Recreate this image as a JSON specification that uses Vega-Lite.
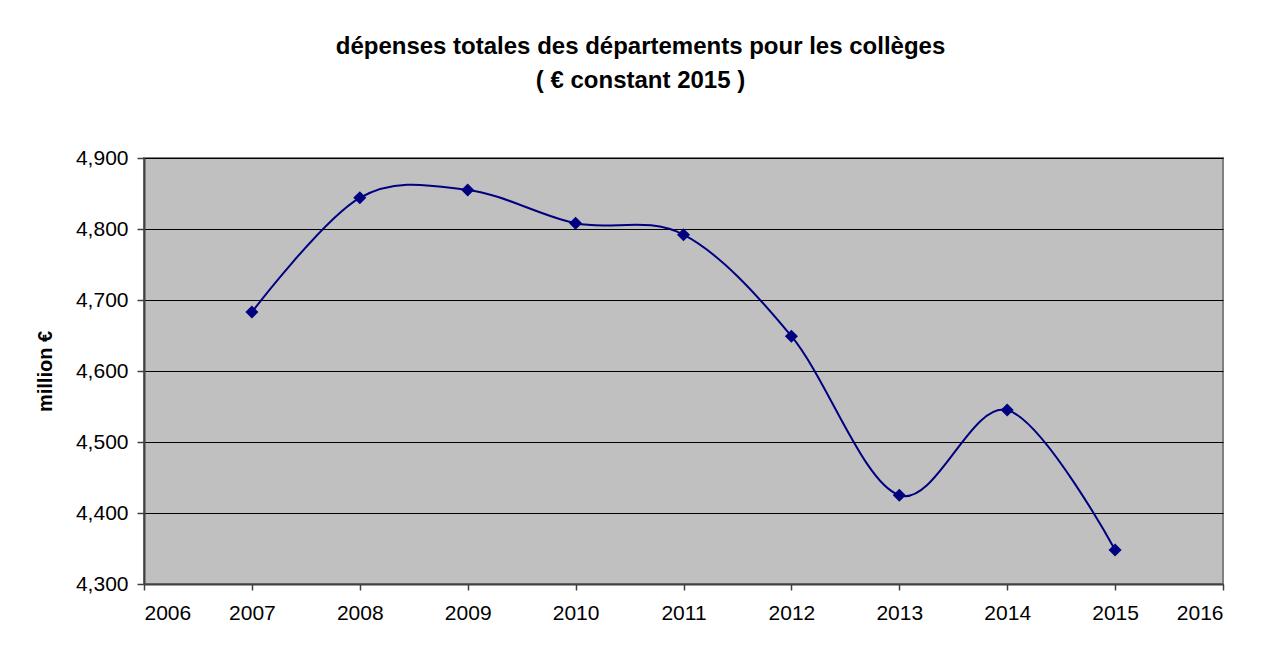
{
  "$schema": "https://vega.github.io/schema/vega-lite/v6.json",
  "autosize": "none",
  "width": 1079,
  "height": 426,
  "padding": {"left": 144, "top": 158, "right": 39, "bottom": 69},
  "background": "white",
  "title": {
    "text": ["dépenses totales des départements pour les collèges", "( € constant 2015 )"],
    "font": "Liberation Sans",
    "fontSize": 24,
    "fontWeight": "bold",
    "lineHeight": 34,
    "color": "black",
    "anchor": "middle",
    "dx": -43,
    "baseline": "bottom",
    "offset": 30
  },
  "config": {
    "view": {"fill": "#C0C0C0", "stroke": "#808080", "strokeWidth": 2},
    "axis": {
      "labelFont": "Liberation Sans",
      "labelFontSize": 21,
      "labelColor": "black",
      "titleFont": "Liberation Sans",
      "titleColor": "black",
      "domainColor": "#404040",
      "domainWidth": 2,
      "tickColor": "#404040",
      "tickWidth": 1.5
    }
  },
  "data": {
    "values": [
      {"year": 2007, "value": 4683},
      {"year": 2008, "value": 4844},
      {"year": 2009, "value": 4855},
      {"year": 2010, "value": 4808},
      {"year": 2011, "value": 4792},
      {"year": 2012, "value": 4649},
      {"year": 2013, "value": 4425},
      {"year": 2014, "value": 4545},
      {"year": 2015, "value": 4348}
    ]
  },
  "encoding": {
    "x": {
      "field": "year",
      "type": "quantitative",
      "scale": {"domain": [2006, 2016], "nice": false, "zero": false},
      "axis": {
        "values": [2006, 2007, 2008, 2009, 2010, 2011, 2012, 2013, 2014, 2015, 2016],
        "format": "d",
        "grid": false,
        "title": null,
        "tickSize": 6,
        "labelPadding": 12
      }
    },
    "y": {
      "field": "value",
      "type": "quantitative",
      "scale": {"domain": [4300, 4900], "nice": false, "zero": false},
      "axis": {
        "values": [4300, 4400, 4500, 4600, 4700, 4800, 4900],
        "format": ",.0f",
        "grid": true,
        "gridColor": "black",
        "gridOpacity": 1,
        "gridWidth": 1,
        "title": "million €",
        "titleFontSize": 20,
        "titleFontWeight": "bold",
        "titlePadding": 20,
        "tickSize": 7,
        "labelPadding": 9
      }
    }
  },
  "layer": [
    {
      "mark": {"type": "line", "interpolate": "cardinal", "tension": 0, "color": "#000080", "strokeWidth": 2}
    },
    {
      "mark": {"type": "point", "shape": "diamond", "filled": true, "size": 170, "color": "#000080", "opacity": 1}
    }
  ]
}
